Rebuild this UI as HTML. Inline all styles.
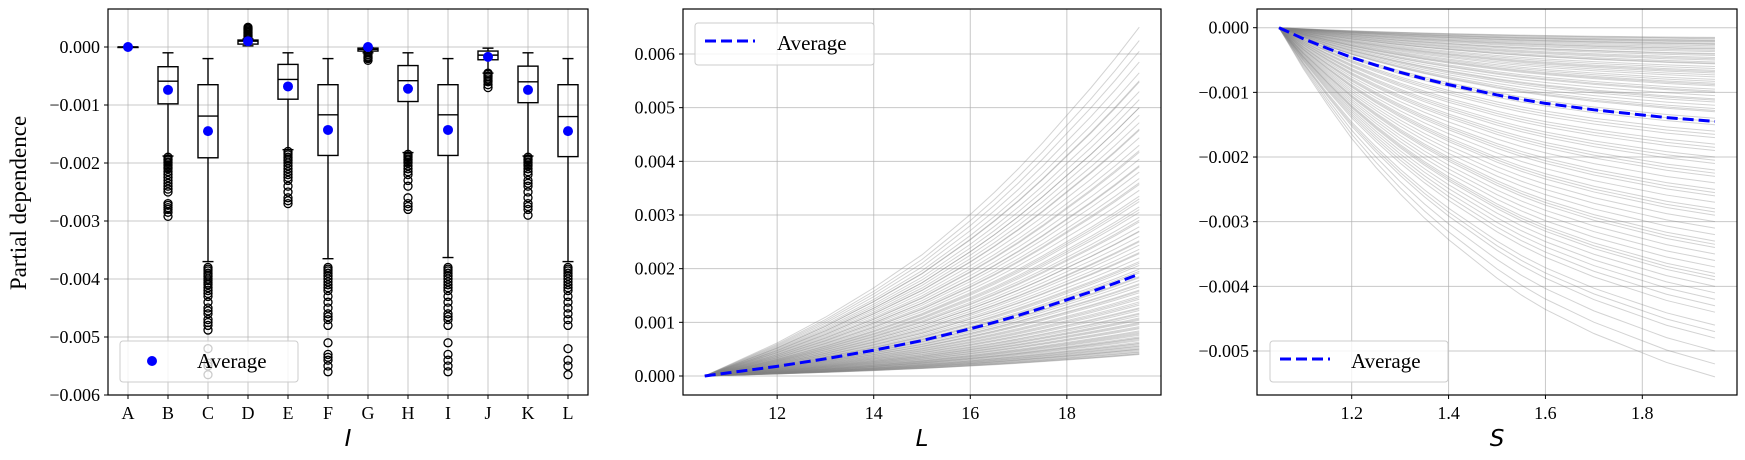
<!DOCTYPE html>
<html><head><meta charset="utf-8">
<style>
html,body{margin:0;padding:0;background:#fff;}
svg{display:block;font-family:"Liberation Serif",serif;}
</style></head>
<body>
<svg id="fig" width="1745" height="460" viewBox="0 0 1745 460" xmlns="http://www.w3.org/2000/svg"></svg>
<script>
// ---------- Panel 1 data (box plots) ----------
const cats = ["A","B","C","D","E","F","G","H","I","J","K","L"];
const whiskHi = [0,-0.0001,-0.0002,0.00014,-0.0001,-0.0002,-0.00001,-0.0001,-0.0002,-0.00002,-0.0001,-0.0002];
const q3 = [0,-0.00034,-0.00065,0.00012,-0.0003,-0.00065,-0.00002,-0.00032,-0.00065,-0.00007,-0.00033,-0.00065];
const medians = [0,-0.00059,-0.00119,0.0001,-0.00056,-0.00117,-0.00004,-0.00058,-0.00117,-0.00014,-0.0006,-0.0012];
const q1 = [0,-0.00098,-0.00191,0.00005,-0.0009,-0.00187,-0.00007,-0.00094,-0.00187,-0.00022,-0.00096,-0.00189];
const whiskLo = [0,-0.00188,-0.0037,0.00002,-0.00177,-0.00365,-0.0001,-0.00182,-0.00363,-0.00045,-0.00188,-0.0037];
const means = [0,-0.00074,-0.00145,0.0001,-0.00068,-0.00143,0,-0.00072,-0.00143,-0.00017,-0.00074,-0.00145];
const outB = [-0.0019,-0.00193,-0.00195,-0.00198,-0.002,-0.00203,-0.00205,-0.00208,-0.0021,-0.00215,-0.0022,-0.00225,-0.0023,-0.00235,-0.0024,-0.00245,-0.0025,-0.0027,-0.00273,-0.00277,-0.0028,-0.00285,-0.00292];
const outC = [-0.0038,-0.00383,-0.00386,-0.0039,-0.00393,-0.00396,-0.004,-0.00403,-0.00407,-0.0041,-0.00415,-0.0042,-0.00425,-0.0043,-0.0044,-0.0045,-0.00455,-0.0046,-0.0047,-0.00475,-0.0048,-0.00488,-0.0052,-0.00545,-0.0055,-0.00565];
const outD = [0.00016,0.00018,0.0002,0.00022,0.00024,0.00026,0.00028,0.0003,0.00032,0.00034];
const outE = [-0.0018,-0.00183,-0.00186,-0.0019,-0.00193,-0.00196,-0.002,-0.00205,-0.0021,-0.00215,-0.0022,-0.00225,-0.0023,-0.0024,-0.0025,-0.0026,-0.00265,-0.0027];
const outF = [-0.0038,-0.00383,-0.00386,-0.0039,-0.00395,-0.004,-0.00405,-0.0041,-0.00415,-0.0042,-0.0043,-0.0044,-0.0045,-0.0046,-0.00465,-0.0047,-0.0048,-0.0051,-0.0053,-0.00535,-0.0054,-0.0055,-0.0056];
const outG = [-0.00008,-0.0001,-0.00013,-0.00016,-0.00018,-0.0002,-0.00023];
const outH = [-0.00185,-0.00188,-0.0019,-0.00193,-0.00195,-0.00198,-0.002,-0.00205,-0.0021,-0.00215,-0.0022,-0.0023,-0.0024,-0.0026,-0.0027,-0.00275,-0.0028];
const outI = [-0.0038,-0.00383,-0.00386,-0.0039,-0.00395,-0.004,-0.00405,-0.0041,-0.00415,-0.0042,-0.0043,-0.0044,-0.0045,-0.0046,-0.00465,-0.0047,-0.0048,-0.0051,-0.0053,-0.0054,-0.0055,-0.0056];
const outJ = [-0.00045,-0.00047,-0.0005,-0.00052,-0.00055,-0.00058,-0.0006,-0.00065,-0.0007];
const outK = [-0.0019,-0.00193,-0.00195,-0.00198,-0.002,-0.00203,-0.00205,-0.0021,-0.00215,-0.0022,-0.0023,-0.00235,-0.0024,-0.0025,-0.0026,-0.0027,-0.00275,-0.0028,-0.0029];
const outL = [-0.0038,-0.00383,-0.00386,-0.0039,-0.00395,-0.004,-0.00405,-0.0041,-0.00415,-0.0042,-0.0043,-0.0044,-0.0045,-0.0046,-0.0047,-0.0048,-0.0052,-0.0054,-0.0055,-0.00565];
const outliers = [[],outB,outC,outD,outE,outF,outG,outH,outI,outJ,outK,outL];
const yTicks1 = [0,-0.001,-0.002,-0.003,-0.004,-0.005,-0.006];

// ---------- Panel 2 data (ICE for L) ----------
const xL = [10.5,11,11.5,12,12.5,13,13.5,14,14.5,15,15.5,16,16.5,17,17.5,18,18.5,19,19.5];
const avgL = [0,0.00006,0.00012,0.00018,0.00025,0.00032,0.0004,0.00048,0.00057,0.00066,0.00077,0.00088,0.001,0.00113,0.00127,0.00142,0.00157,0.00173,0.0019];
const endL = [4,4.2,4.5,4.7,5,5.3,5.5,5.8,6,6.3,6.6,7,7.3,7.6,8,8.4,8.8,9.2,9.6,10,10.4,10.8,11.2,11.7,12.2,12.7,13.2,13.8,14.3,14.9,15.5,16,16.6,17.2,17.8,18.5,19.2,19.9,20.6,21.3,22,22.8,23.6,24.4,25.2,26,26.9,27.8,28.7,29.6,30.5,31.5,32.5,33.5,34.6,35.7,36.8,38,39.2,40.4,41.7,43,44.4,45.8,47.2,48.6,50,51.5,53,54.8,56.5,58.5,60.5,62.5,65,
4.1,4.4,4.9,5.1,5.6,6.1,6.8,7.1,7.8,8.2,9,9.8,10.6,11.5,12.5,13.5,14.6,15.8,17,18.3,19.5,21,23,25,27,29,31,33,36,39,42,46,50,55];
const xTicks2 = [12,14,16,18];
const yTicks2 = [0,0.001,0.002,0.003,0.004,0.005,0.006];

// ---------- Panel 3 data (ICE for S) ----------
const xS = [1.05,1.1,1.15,1.2,1.25,1.3,1.35,1.4,1.45,1.5,1.55,1.6,1.65,1.7,1.75,1.8,1.85,1.9,1.95];
const avgS = [0,-0.00017,-0.00032,-0.00046,-0.00058,-0.00069,-0.00079,-0.00088,-0.00096,-0.00104,-0.00111,-0.00117,-0.00122,-0.00127,-0.00131,-0.00135,-0.00139,-0.00142,-0.00145];
const endS = [1.5,1.7,1.9,2,2.2,2.4,2.6,2.8,3,3.2,3.5,3.7,4,4.3,4.6,5,5.3,5.6,6,6.3,6.6,7,7.3,7.6,8,8.3,8.6,9,9.5,10,10.5,11,11.5,12,12.5,13,14,15,16,17,18,19,20,21,22,23,24,25,26,27,28,29,30,31,32,33,34,35,36,37,38,39,40,41,42,43,44,46,48,50,52,54,
1.6,2.1,2.5,3.3,4.1,4.8,5.5,6.8,8.8,9.8,11.2,12.8,14.5,16.5,18.5,20.5,22.5,25.5,28.5,33.5,38.5,47];
const xTicks3 = [1.2,1.4,1.6,1.8];
const yTicks3 = [0,-0.001,-0.002,-0.003,-0.004,-0.005];

const NS = "http://www.w3.org/2000/svg";
const svg = document.getElementById('fig');
function el(tag, attrs, parent){
  const e = document.createElementNS(NS, tag);
  for (const k in attrs) e.setAttribute(k, attrs[k]);
  (parent||svg).appendChild(e);
  return e;
}
function fmt(v,d){ const s=Math.abs(v).toFixed(d); return (v<0?"\u2212":"")+s; }
function lin(d0,d1,r0,r1){ return v => r0 + (v-d0)/(d1-d0)*(r1-r0); }

function axesFrame(g,L,T,R,B){
  const f = el('rect',{x:L,y:T,width:R-L,height:B-T,fill:'none',stroke:'#000','stroke-width':1.2},g);
  
  
}
function yAxis(g,ticks,ys,L,R,d){
  ticks.forEach(t=>{
    const y=ys(t);
    const gl=el('line',{x1:L,x2:R,y1:y,y2:y,stroke:'#b0b0b0','stroke-width':1,'stroke-opacity':0.7},g);
    
    
    el('line',{x1:L-4,x2:L,y1:y,y2:y,stroke:'#000','stroke-width':1},g);
    const tx=el('text',{x:L-8,y:y+6,'text-anchor':'end','font-size':18,fill:'#000'},g);
    tx.textContent=fmt(t,d);
    
    
  });
}
function xAxis(g,ticks,xs,T,B,labels){
  ticks.forEach((t,i)=>{
    const x=xs(t);
    const gl=el('line',{x1:x,x2:x,y1:T,y2:B,stroke:'#b0b0b0','stroke-width':1,'stroke-opacity':0.7},g);
    
    
    el('line',{x1:x,x2:x,y1:B,y2:B+4,stroke:'#000','stroke-width':1},g);
    const tx=el('text',{x:x,y:B+24,'text-anchor':'middle','font-size':18,fill:'#000'},g);
    tx.textContent=labels?labels[i]:t.toFixed(t%1===0?0:1);
    
    
  });
}
function xTitle(g,x,txt){
  const t=el('text',{x:x,y:446,'text-anchor':'middle','font-size':23,'font-style':'italic','font-family':'"DejaVu Sans",sans-serif'},g);
  t.textContent=txt;
  
  
}
function pathFrom(xsArr,ysArr,xs,ys){
  return xsArr.map((v,i)=>(i?'L':'M')+xs(v).toFixed(2)+','+ys(ysArr[i]).toFixed(2)).join(' ');
}

// ===== Panel 1 =====
(function(){
  const L=108,T=9,R=588,B=395;
  const g=el('g',{});  
  const xs=lin(-0.5,11.5,L,R);
  const ys=lin(0,-0.006,47,395);
  yAxis(g,yTicks1,ys,L,R,3);
  xAxis(g,cats.map((c,i)=>i),xs,T,B,cats);
  cats.forEach((c,i)=>{
    const bg=el('g',{},g);
    
    
    const x=xs(i), hw=10, cw=5.5;
    const st={stroke:'#000','stroke-width':1.4,fill:'none'};
    el('line',Object.assign({x1:x,x2:x,y1:ys(whiskHi[i]),y2:ys(q3[i])},st),bg);
    el('line',Object.assign({x1:x,x2:x,y1:ys(q1[i]),y2:ys(whiskLo[i])},st),bg);
    el('line',Object.assign({x1:x-cw,x2:x+cw,y1:ys(whiskHi[i]),y2:ys(whiskHi[i])},st),bg);
    el('line',Object.assign({x1:x-cw,x2:x+cw,y1:ys(whiskLo[i]),y2:ys(whiskLo[i])},st),bg);
    el('rect',Object.assign({x:x-hw,y:ys(q3[i]),width:2*hw,height:Math.max(ys(q1[i])-ys(q3[i]),0.5)},st),bg);
    el('line',Object.assign({x1:x-hw,x2:x+hw,y1:ys(medians[i]),y2:ys(medians[i])},st),bg);
    outliers[i].forEach(v=>{
      const o=el('circle',{cx:x,cy:ys(v),r:4,fill:'none',stroke:'#000','stroke-width':1.3},bg);
      
      
    });
    const m=el('circle',{cx:x,cy:ys(means[i]),r:5,fill:'#0000ff'},bg);
    
    
  });
  axesFrame(g,L,T,R,B);
  const lg=el('g',{},g);  
  el('rect',{x:120,y:341,width:178,height:41,rx:3,fill:'#fff','fill-opacity':0.8,stroke:'#ccc','stroke-width':1},lg);
  el('circle',{cx:152,cy:361,r:5,fill:'#0000ff'},lg);
  const lt=el('text',{x:197,y:368,'font-size':21},lg); lt.textContent='Average';
  const yt=el('text',{x:0,y:0,'font-size':23,'text-anchor':'middle',transform:'translate(26,203) rotate(-90)'},g);
  yt.textContent='Partial dependence';
  
  
  xTitle(g,348,'I');
})();

// ===== Panel 2 =====
(function(){
  const L=683,T=9,R=1161,B=395;
  const g=el('g',{});  
  const xs=lin(10.05,19.95,L,R);
  const ys=lin(0,0.006,376,54);
  yAxis(g,yTicks2,ys,L,R,3);
  xAxis(g,xTicks2,xs,T,B);
  const amax=avgL[avgL.length-1];
  endL.forEach(e=>{
    const vals=avgL.map(v=>v/amax*e*1e-4);
    const p=el('path',{d:pathFrom(xL,vals,xs,ys),fill:'none',stroke:'#808080','stroke-opacity':0.35,'stroke-width':1},g);
    
    
  });
  const a=el('path',{d:pathFrom(xL,avgL,xs,ys),fill:'none',stroke:'#0000ff','stroke-width':3,'stroke-dasharray':'11,5'},g);
  
  
  axesFrame(g,L,T,R,B);
  const lg=el('g',{},g);  
  el('rect',{x:695,y:23,width:179,height:42,rx:3,fill:'#fff','fill-opacity':0.8,stroke:'#ccc','stroke-width':1},lg);
  el('line',{x1:705,x2:755,y1:41,y2:41,stroke:'#0000ff','stroke-width':3,'stroke-dasharray':'11,5'},lg);
  const lt=el('text',{x:777,y:50,'font-size':21},lg); lt.textContent='Average';
  xTitle(g,922,'L');
})();

// ===== Panel 3 =====
(function(){
  const L=1257,T=9,R=1737,B=395;
  const g=el('g',{});  
  const xs=lin(1.0045,1.9955,L,R);
  const ys=lin(0,-0.005,27.7,351);
  yAxis(g,yTicks3,ys,L,R,3);
  xAxis(g,xTicks3,xs,T,B);
  const amax=avgS[avgS.length-1];
  endS.forEach(e=>{
    const vals=avgS.map(v=>v/amax*(-e)*1e-4);
    const p=el('path',{d:pathFrom(xS,vals,xs,ys),fill:'none',stroke:'#808080','stroke-opacity':0.35,'stroke-width':1},g);
    
    
  });
  const a=el('path',{d:pathFrom(xS,avgS,xs,ys),fill:'none',stroke:'#0000ff','stroke-width':3,'stroke-dasharray':'11,5'},g);
  
  
  axesFrame(g,L,T,R,B);
  const lg=el('g',{},g);  
  el('rect',{x:1270,y:341,width:178,height:41,rx:3,fill:'#fff','fill-opacity':0.8,stroke:'#ccc','stroke-width':1},lg);
  el('line',{x1:1280,x2:1330,y1:359,y2:359,stroke:'#0000ff','stroke-width':3,'stroke-dasharray':'11,5'},lg);
  const lt=el('text',{x:1351,y:368,'font-size':21},lg); lt.textContent='Average';
  xTitle(g,1497,'S');
})();
</script>
</body></html>
